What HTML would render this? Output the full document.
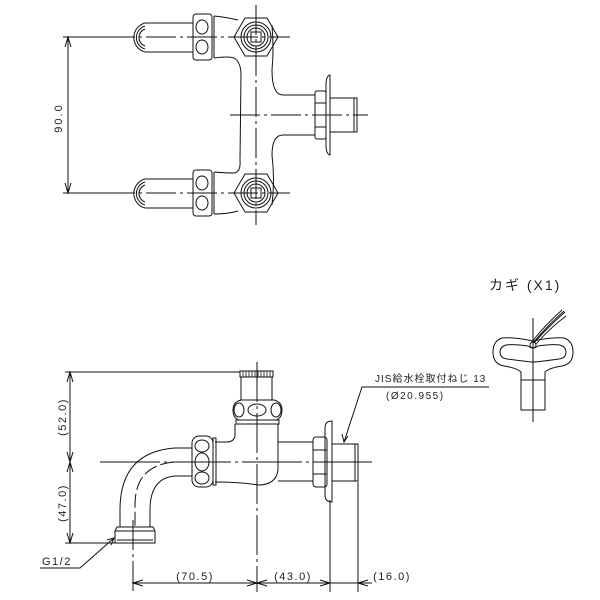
<!DOCTYPE html>
<html><head><meta charset="utf-8"><style>
html,body{margin:0;padding:0;background:#fff}
svg{display:block}
text{font-family:"Liberation Sans","Noto Sans CJK JP",sans-serif;fill:#222}
</style></head><body>
<svg width="600" height="600" viewBox="0 0 600 600" xmlns="http://www.w3.org/2000/svg" fill="none" stroke="#111" stroke-width="1">
<g>
<line x1="256" y1="5" x2="256" y2="225" stroke-dasharray="30,4,3,4"/>
<line x1="105" y1="37" x2="290" y2="37" stroke-dasharray="30,4,3,4"/>
<line x1="105" y1="193" x2="290" y2="193" stroke-dasharray="30,4,3,4"/>
<line x1="230" y1="115" x2="368" y2="115" stroke-dasharray="30,4,3,4"/>
<line x1="63" y1="37" x2="105" y2="37"/>
<line x1="63" y1="193" x2="105" y2="193"/>
<line x1="68" y1="37" x2="68" y2="193"/>
<path d="M65 47 L68 37 L71 47 M65 183 L68 193 L71 183"/>
<text font-size="11" letter-spacing="2" transform="translate(62,118) rotate(-90)" text-anchor="middle" stroke="none">90.0</text>
<path d="M145 23 H193 M145 52 H193"/>
<path d="M145 23 A15 15 0 0 0 145 52 M145 26 A12 12 0 0 0 145 49 M145 29 A9 9 0 0 0 145 46"/>
<path d="M145 179 H193 M145 208 H193"/>
<path d="M145 179 A15 15 0 0 0 145 208 M145 182 A12 12 0 0 0 145 205 M145 185 A9 9 0 0 0 145 202"/>
<rect x="193" y="14" width="19" height="46" rx="3"/>
<ellipse cx="202" cy="27" rx="6" ry="7"/><ellipse cx="202" cy="47" rx="6" ry="7"/>
<line x1="214" y1="16" x2="214" y2="58"/>
<rect x="193" y="170" width="19" height="46" rx="3"/>
<ellipse cx="202" cy="183" rx="6" ry="7"/><ellipse cx="202" cy="203" rx="6" ry="7"/>
<line x1="214" y1="172" x2="214" y2="214"/>
<path d="M214 16 Q225 17 238 20 M214 58 Q228 56 234 58 Q241 62 241 75 L240 160 Q241 172 234 173 Q225 173 214 172 M214 214 Q228 214 238 211"/>
<path d="M272 25 Q274 50 272 70 Q272 95 283 95 H315 M315 135 H283 Q272 135 272 155 Q275 180 272 205"/>
<polygon points="234,37 245,18 267,18 278,37 267,56 245,56"/>
<circle cx="256" cy="37" r="15"/><circle cx="256" cy="37" r="12"/><circle cx="256" cy="37" r="9"/>
<rect x="251" y="32" width="10" height="10"/>
<polygon points="234,193 245,174 267,174 278,193 267,212 245,212"/>
<circle cx="256" cy="193" r="15"/><circle cx="256" cy="193" r="12"/><circle cx="256" cy="193" r="9"/>
<rect x="251" y="188" width="10" height="10"/>
<rect x="315" y="91" width="11" height="48" rx="2"/>
<line x1="315" y1="103" x2="326" y2="103"/><line x1="315" y1="127" x2="326" y2="127"/>
<path d="M326 85 Q326 76 330 75 L330 155 Q326 154 326 145 Z"/>
<rect x="330" y="98" width="27" height="34"/>
<line x1="354" y1="98" x2="354" y2="132"/>
</g>

<g>
<line x1="257" y1="362" x2="257" y2="592" stroke-dasharray="40,4,3,4"/>
<line x1="100" y1="462" x2="372" y2="462" stroke-dasharray="60,4,3,4"/>
<line x1="133" y1="520" x2="133" y2="592" stroke-dasharray="30,4,3,4"/>
<line x1="65" y1="372" x2="240" y2="372"/>
<line x1="65" y1="543" x2="115" y2="543"/>
<line x1="70" y1="372" x2="70" y2="543"/>
<path d="M67 382 L70 372 L73 382 M67 452 L70 462 L73 452 M67 472 L70 462 L73 472 M67 533 L70 543 L73 533"/>
<text font-size="11" letter-spacing="1.5" transform="translate(66,417) rotate(-90)" text-anchor="middle" stroke="none">(52.0)</text>
<text font-size="11" letter-spacing="1.5" transform="translate(66,503) rotate(-90)" text-anchor="middle" stroke="none">(47.0)</text>
<line x1="330" y1="500" x2="330" y2="592"/>
<line x1="358" y1="482" x2="358" y2="592"/>
<line x1="133" y1="583" x2="372" y2="583"/>
<path d="M143 580 L133 583 L143 586 M247 580 L257 583 L247 586 M267 580 L257 583 L267 586 M320 580 L330 583 L320 586 M368 580 L358 583 L368 586"/>
<text x="195" y="580" font-size="11" letter-spacing="1.5" text-anchor="middle" stroke="none">(70.5)</text>
<text x="293" y="580" font-size="11" letter-spacing="1.5" text-anchor="middle" stroke="none">(43.0)</text>
<text x="392" y="580" font-size="11" letter-spacing="1.5" text-anchor="middle" stroke="none">(16.0)</text>
<path d="M40 568 H80 L114 538"/>
<path d="M107 540 L114 538 L111 545"/>
<text x="42" y="565" font-size="11" letter-spacing="1.5" stroke="none">G1/2</text>
<path d="M489 387 H362 L344 442"/>
<path d="M342 434 L344 442 L348 436"/>
<text x="375" y="382" font-size="10" stroke="none" letter-spacing="1">JIS給水栓取付ねじ 13</text>
<text x="386" y="399" font-size="10" stroke="none" letter-spacing="1.5">(Ø20.955)</text>
<rect x="240" y="371" width="33" height="6"/>
<path d="M243 371 V377 M246 371 V377 M249 371 V377 M252 371 V377 M255 371 V377 M258 371 V377 M261 371 V377 M264 371 V377 M267 371 V377 M270 371 V377" stroke-width="0.8"/>
<rect x="241" y="377" width="31" height="23"/>
<path d="M241 400 H274 Q282 402 282 410 Q282 418 276 420 H239 Q233 418 233 410 Q233 402 241 400 Z"/>
<ellipse cx="239" cy="410" rx="5" ry="7"/><ellipse cx="276" cy="410" rx="5" ry="7"/>
<ellipse cx="257" cy="410" rx="9" ry="6"/>
<rect x="236" y="420" width="43" height="4"/>
<path d="M235 424 V436 Q234 442 226 442 H215 M278 424 V470 Q276 485 258 485 Q240 482 215 482"/>
<line x1="278" y1="442" x2="313" y2="442"/><line x1="278" y1="481" x2="313" y2="481"/>
<rect x="192" y="436" width="21" height="51" rx="7"/>
<ellipse cx="202" cy="446" rx="7" ry="6"/><ellipse cx="202" cy="462" rx="7" ry="9"/><ellipse cx="202" cy="478" rx="7" ry="6"/>
<rect x="213" y="438" width="3" height="47"/>
<path d="M192 448 H175 Q120 452 120 510 V527"/>
<path d="M192 476 H175 Q150 478 150 510 V527"/>
<path d="M192 462 H175 Q135 465 135 505 V527" stroke-dasharray="14,4"/>
<path d="M117 527 H153 L155 531 V543 H115 V531 Z"/>
<line x1="115" y1="531" x2="155" y2="531"/><line x1="117" y1="540" x2="153" y2="540"/>
<rect x="313" y="437" width="14" height="50" rx="3"/>
<line x1="313" y1="450" x2="327" y2="450"/><line x1="313" y1="474" x2="327" y2="474"/>
<path d="M325 428 Q325 421 332 421 V502 Q325 502 325 495 Z"/>
<rect x="332" y="444" width="26" height="37"/>
<line x1="355" y1="444" x2="355" y2="481"/>
</g>

<g>
<text x="489" y="290" font-size="14" letter-spacing="2" stroke="none">カギ (X1)</text>
<line x1="533" y1="318" x2="533" y2="422"/>
<path d="M533 341 Q514 337 502 338 Q493 341 493 352 Q493 364 504 366 Q517 368 521 372 V380 H545 V372 Q549 368 562 366 Q573 364 573 352 Q573 341 564 338 Q552 337 533 341 Z"/>
<path d="M528 346 Q514 344 506 345 Q500 347 500 352 Q500 358 507 359 Q530 362 533 362 Q537 362 559 359 Q566 358 566 352 Q566 347 560 345 Q551 344 538 346 Q533 350 528 346 Z"/>
<circle cx="533" cy="345" r="3"/>
<rect x="521" y="380" width="24" height="30"/>
<path d="M531 343 Q545 325 562 310 M534 343 Q548 327 565 312 M536 344 Q550 328 566 316 M533 343 Q547 326 564 311" stroke-width="0.9"/>
</g>
</svg>
</body></html>
